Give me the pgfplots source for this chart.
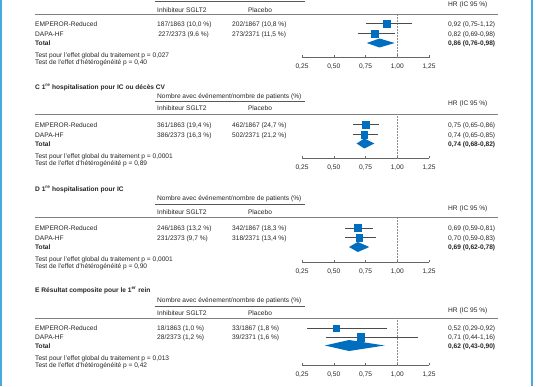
\documentclass[border=0pt]{standalone}
\usepackage{pgfplots}
\pgfplotsset{compat=1.18}
\usepackage{fontspec}
\setmainfont{Liberation Sans}
\definecolor{hrblue}{RGB}{0,110,190}
\definecolor{sideblue}{RGB}{70,170,220}
\definecolor{txt}{RGB}{40,36,37}
\newcommand\fs{\fontsize{6.6}{7.8}\selectfont}

\pgfplotsset{forest/.style={
  scale only axis, width=127pt, xmin=0.25, xmax=1.25,
  axis y line=none, axis x line*=bottom,
  x axis line style={-, draw=black!60, line width=0.5pt},
  clip=false,
  xtick={0.25,0.5,0.75,1,1.25},
  tick align=inside, major tick length=2.5pt,
  tick style={black!60, line width=0.5pt},
  xticklabel style={font=\fs, text=txt, yshift=-3pt},
  /pgf/number format/use comma,
  /pgf/number format/fixed,
  /pgf/number format/fixed zerofill,
  /pgf/number format/precision=2,
  /pgf/number format/assume math mode=true,
}}

\newcommand\study[5]{%
  \addplot[draw=black!70, line width=0.5pt] coordinates {(#3,#1) (#4,#1)};
  \addplot[only marks, mark=square*, mark size=#5, mark options={fill=hrblue, draw=hrblue}] coordinates {(#2,#1)};}
\newcommand\refline[2]{\addplot[draw=black!45, densely dotted, line width=0.5pt] coordinates {(1,#1) (1,#2)};}

\newcommand\rowtext[5]{%
  \node[anchor=mid west] at (35,#1) {#2};
  \node[anchor=mid west] at (157,#1) {#3};
  \node[anchor=mid west] at (232,#1) {#4};
  \node[anchor=mid west] at (448,#1) {#5};}
\newcommand\heads[5]{% title y, nombre y, shortrule y, HR y, inhib y
  \node[anchor=mid west] at (157,#2) {Nombre avec événement/nombre de patients (\%)};
  \draw[black!65, line width=0.5pt] (155,#3) -- (305,#3);
  \node[anchor=mid west] at (448,#4) {HR (IC 95 \%)};
  \node[anchor=mid west] at (157,#5) {Inhibiteur SGLT2};
  \node[anchor=mid] at (260,#5) {Placebo};}

\begin{document}
\begin{tikzpicture}
\begin{scope}[x=1pt, y=-1pt, every node/.style={inner sep=0pt, font=\fs, text=txt}]
\path[use as bounding box] (0,0) rectangle (536,386);
\fill[white] (0,0) rectangle (536,386);
\fill[sideblue] (0,0) rectangle (2,386);
\fill[sideblue] (530.5,0) rectangle (532.5,386);

% ---- Panel B (partial)
\draw[black!65, line width=0.5pt] (155,1) -- (305,1);
\node[anchor=mid west] at (448,3.5) {HR (IC 95 \%)};
\node[anchor=mid west] at (157,9.5) {Inhibiteur SGLT2};
\node[anchor=mid] at (260,9.5) {Placebo};
\draw[black!50, line width=0.8pt] (35,14) -- (498,14);
\rowtext{23.5}{EMPEROR-Reduced}{187/1863 (10,0 \%)}{202/1867 (10,8 \%)}{0,92 (0,75-1,12)}
\rowtext{33.5}{DAPA-HF}{\,227/2373 (9.6 \%)}{273/2371 (11,5 \%)}{0,82 (0,69-0,98)}
\rowtext{43}{\textbf{Total}}{}{}{\textbf{0,86 (0,76-0,98)}}
\node[anchor=mid west] at (35,55) {Test pour l'effet global du traitement p = 0,027};
\node[anchor=mid west] at (35,61.5) {Test de l'effet d'hétérogénéité p = 0,40};

% ---- Panel C
\node[anchor=mid west] at (35,87) {\textbf{C 1\textsuperscript{re} hospitalisation pour IC ou décès CV}};
\heads{87}{95.5}{101.5}{103}{108}
\draw[black!50, line width=0.8pt] (35,114) -- (498,114);
\rowtext{124.5}{EMPEROR-Reduced}{361/1863 (19,4 \%)}{462/1867 (24,7 \%)}{0,75 (0,65-0,86)}
\rowtext{134.5}{DAPA-HF}{386/2373 (16,3 \%)}{502/2371 (21,2 \%)}{0,74 (0,65-0,85)}
\rowtext{143.5}{\textbf{Total}}{}{}{\textbf{0,74 (0,68-0,82)}}
\node[anchor=mid west] at (35,156) {Test pour l'effet global du traitement p = 0,0001};
\node[anchor=mid west] at (35,162.5) {Test de l'effet d'hétérogénéité p = 0,89};

% ---- Panel D
\node[anchor=mid west] at (35,188.5) {\textbf{D 1\textsuperscript{re} hospitalisation pour IC}};
\heads{188.5}{198}{204}{207.5}{211.5}
\draw[black!50, line width=0.8pt] (35,217) -- (498,217);
\rowtext{228}{EMPEROR-Reduced}{246/1863 (13,2 \%)}{342/1867 (18,3 \%)}{0,69 (0,59-0,81)}
\rowtext{237.5}{DAPA-HF}{231/2373 (9,7 \%)}{318/2371 (13,4 \%)}{0,70 (0,59-0,83)}
\rowtext{247}{\textbf{Total}}{}{}{\textbf{0,69 (0,62-0,78)}}
\node[anchor=mid west] at (35,259) {Test pour l'effet global du traitement p = 0,0001};
\node[anchor=mid west] at (35,265.5) {Test de l'effet d'hétérogénéité p = 0,90};

% ---- Panel E
\node[anchor=mid west] at (35,290) {\textbf{E Résultat composite pour le 1\textsuperscript{er} rein}};
\heads{290}{300}{306}{309.5}{313}
\draw[black!50, line width=0.8pt] (35,318.5) -- (498,318.5);
\rowtext{328}{EMPEROR-Reduced}{18/1863 (1,0 \%)}{33/1867 (1,8 \%)}{0,52 (0,29-0,92)}
\rowtext{337}{DAPA-HF}{28/2373 (1,2 \%)}{39/2371 (1,6 \%)}{0,71 (0,44-1,16)}
\rowtext{345.5}{\textbf{Total}}{}{}{\textbf{0,62 (0,43-0,90)}}
\node[anchor=mid west] at (35,358) {Test pour l'effet global du traitement p = 0,013};
\node[anchor=mid west] at (35,365) {Test de l'effet d'hétérogénéité p = 0,42};
\end{scope}

% ---- Forest axes
\begin{axis}[forest, at={(302pt,-57.5pt)}, anchor=south west, height=43.5pt, ymin=-57.5, ymax=-14]
\refline{-57.5}{-14}
\study{-23.5}{0.92}{0.75}{1.12}{3.4}
\study{-33.5}{0.82}{0.69}{0.98}{3.4}
\addplot[fill=hrblue, draw=none] coordinates {(0.76,-43) (0.86,-38.5) (0.98,-43) (0.86,-47.5) (0.76,-43)};
\end{axis}

\begin{axis}[forest, at={(302pt,-158pt)}, anchor=south west, height=44pt, ymin=-158, ymax=-114]
\refline{-158}{-114}
\study{-124.5}{0.75}{0.65}{0.86}{3.4}
\study{-134.5}{0.74}{0.65}{0.85}{3.4}
\addplot[fill=hrblue, draw=none] coordinates {(0.68,-143.5) (0.74,-138.5) (0.82,-143.5) (0.74,-148.5) (0.68,-143.5)};
\end{axis}

\begin{axis}[forest, at={(302pt,-262pt)}, anchor=south west, height=45pt, ymin=-262, ymax=-217]
\refline{-262}{-217}
\study{-228}{0.69}{0.59}{0.81}{3.4}
\study{-237.5}{0.70}{0.59}{0.83}{3.4}
\addplot[fill=hrblue, draw=none] coordinates {(0.62,-247) (0.69,-242) (0.78,-247) (0.69,-252) (0.62,-247)};
\end{axis}

\begin{axis}[forest, at={(302pt,-365pt)}, anchor=south west, height=46.5pt, ymin=-365, ymax=-318.5]
\refline{-365}{-318.5}
\study{-328}{0.52}{0.29}{0.92}{2.8}
\study{-337}{0.71}{0.44}{1.16}{3.7}
\addplot[fill=hrblue, draw=none] coordinates {(0.43,-345.5) (0.62,-340) (0.90,-345.5) (0.62,-351) (0.43,-345.5)};
\end{axis}
\end{tikzpicture}
\end{document}
